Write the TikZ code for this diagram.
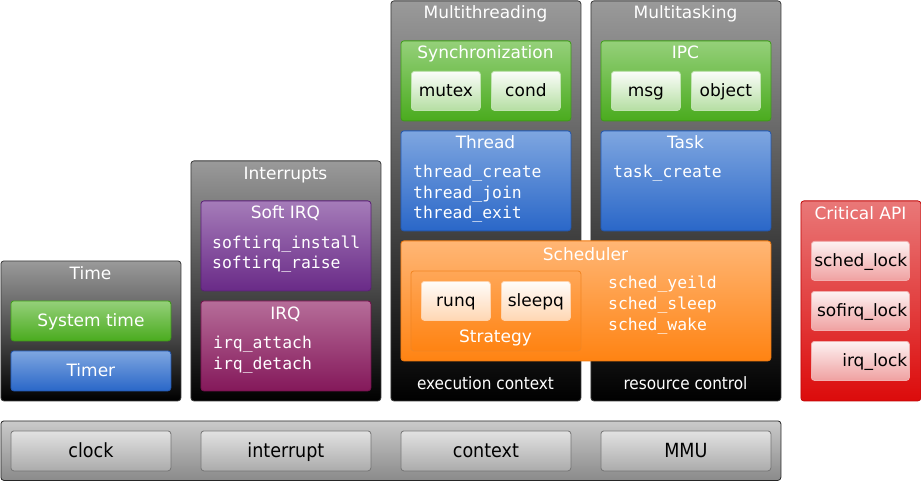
\documentclass[tikz,border=0pt]{standalone}
\usepackage{fontspec}
\setmainfont{DejaVu Sans}
\setmonofont{DejaVu Sans Mono}
\newfontfamily\condfont{DejaVu Sans Condensed}
\definecolor{dkT}{HTML}{9A9A9A}\definecolor{dkM}{HTML}{3C3C3C}\definecolor{dkB}{HTML}{000000}\definecolor{dkL}{HTML}{3A3A3A}
\definecolor{grT}{HTML}{95D07A}\definecolor{grB}{HTML}{4AAB1E}\definecolor{grL}{HTML}{3E9C18}
\definecolor{blT}{HTML}{7EA6E0}\definecolor{blB}{HTML}{2A67C8}\definecolor{blL}{HTML}{2358B0}
\definecolor{puT}{HTML}{A57CB9}\definecolor{puB}{HTML}{692A87}\definecolor{puL}{HTML}{5A2076}
\definecolor{mgT}{HTML}{B66D99}\definecolor{mgB}{HTML}{84185A}\definecolor{mgL}{HTML}{74104C}
\definecolor{orT}{HTML}{FFB675}\definecolor{orB}{HTML}{FF8312}\definecolor{orL}{HTML}{EE7A10}
\definecolor{rdT}{HTML}{E97878}\definecolor{rdB}{HTML}{DC0B0B}\definecolor{rdL}{HTML}{C00808}
\definecolor{gyT}{HTML}{CACACA}\definecolor{gyB}{HTML}{8A8A8A}
\definecolor{gbT}{HTML}{E2E2E2}\definecolor{gbB}{HTML}{ABABAB}\definecolor{gbL}{HTML}{777777}
\tikzset{
  box/.style={rounded corners=3pt, line width=0.8pt, inner sep=0pt, anchor=north west},
  dark/.style={box, draw=dkL, top color=dkT, middle color=dkM, bottom color=dkB},
  green/.style={box, draw=grL, top color=grT, bottom color=grB},
  blue/.style={box, draw=blL, top color=blT, bottom color=blB},
  purple/.style={box, draw=puL, top color=puT, bottom color=puB},
  magenta/.style={box, draw=mgL, top color=mgT, bottom color=mgB},
  orange/.style={box, draw=orL, top color=orT, bottom color=orB},
  strat/.style={box, draw=orL!80!orT, top color=orT!70!orB, bottom color=orB},
  red/.style={box, draw=rdL, top color=rdT, bottom color=rdB},
  gbtn/.style={box, draw=grT!60!white, top color=white!96!grT, bottom color=grT!70!white},
  obtn/.style={box, draw=orT!60!white, top color=white!96!orT, bottom color=orT!55!white},
  rbtn/.style={box, draw=rdT!60!white, top color=white!90!rdT, bottom color=rdT!70!white},
  bar/.style={box, draw=black!85, top color=gyT, bottom color=gyB},
  bbtn/.style={box, draw=gbL, top color=gbT, bottom color=gbB},
  ttl/.style={text=white, font=\fontsize{17}{20}\selectfont, inner sep=0pt, text height=12pt, text depth=0pt},
  foot/.style={text=white, font=\condfont\fontsize{17}{20}\selectfont, inner sep=0pt, text height=12pt, text depth=0pt},
  lbl/.style={text=black, font=\fontsize{17}{20}\selectfont, inner sep=0pt, text height=12pt, text depth=0pt},
  hwlbl/.style={text=black, font=\condfont\fontsize{19.5}{22}\selectfont, inner sep=0pt, text height=13pt, text depth=0pt},
  code/.style={text=white, font=\fontsize{16.4}{20}\ttfamily, inner sep=0pt, anchor=west, text height=12pt, text depth=0pt},
}
\begin{document}
\begin{tikzpicture}[x=1pt,y=-1pt]
\useasboundingbox (0,0) rectangle (921,481);
% Time
\node[dark, minimum width=180, minimum height=140] (time) at (0.5,260.5) {};
\node[ttl] (timeT) at (90.5,273) {Time};
\node[green, minimum width=160, minimum height=40] (systime) at (10.5,300.5) {};
\node[ttl] (systimeT) at (systime.center) {System time};
\node[blue, minimum width=160, minimum height=40] (timer) at (10.5,350.5) {};
\node[ttl] (timerT) at (timer.center) {Timer};
% Interrupts
\node[dark, minimum width=190, minimum height=240] (intr) at (190.5,160.5) {};
\node[ttl] (intrT) at (285.5,174) {Interrupts};
\node[purple, minimum width=170, minimum height=90] (soft) at (200.5,200.5) {};
\node[ttl] (softT) at (285.5,213) {Soft IRQ};
\node[code] (si1) at (212,242) {softirq\_install};
\node[code] (si2) at (212,263) {softirq\_raise};
\node[magenta, minimum width=170, minimum height=90] (irq) at (200.5,300.5) {};
\node[ttl] (irqT) at (285.5,313) {IRQ};
\node[code] (ir1) at (213,342) {irq\_attach};
\node[code] (ir2) at (213,363) {irq\_detach};
% Multithreading
\node[dark, minimum width=190, minimum height=400] (mthr) at (390.5,0.5) {};
\node[ttl] (mthrT) at (485.5,13) {Multithreading};
\node[green, minimum width=170, minimum height=80] (sync) at (400.5,40.5) {};
\node[ttl] (syncT) at (485.5,53) {Synchronization};
\node[gbtn, minimum width=69, minimum height=39] (mutex) at (411,71) {};
\node[lbl] (mutexT) at (mutex.center) {mutex};
\node[gbtn, minimum width=69, minimum height=39] (cond) at (491,71) {};
\node[lbl] (condT) at (cond.center) {cond};
\node[blue, minimum width=170, minimum height=100] (thread) at (400.5,130.5) {};
\node[ttl] (threadT) at (485.5,143) {Thread};
\node[code] (th1) at (413,172) {thread\_create};
\node[code] (th2) at (413,193) {thread\_join};
\node[code] (th3) at (413,213) {thread\_exit};
\node[foot] (execT) at (485.5,383) {execution context};
% Multitasking
\node[dark, minimum width=190, minimum height=400] (mtask) at (590.5,0.5) {};
\node[ttl] (mtaskT) at (685.5,13) {Multitasking};
\node[green, minimum width=170, minimum height=80] (ipc) at (600.5,40.5) {};
\node[ttl] (ipcT) at (685.5,53) {IPC};
\node[gbtn, minimum width=69, minimum height=39] (msg) at (611,71) {};
\node[lbl] (msgT) at (msg.center) {msg};
\node[gbtn, minimum width=69, minimum height=39] (object) at (691,71) {};
\node[lbl] (objectT) at (object.center) {object};
\node[blue, minimum width=170, minimum height=100] (task) at (600.5,130.5) {};
\node[ttl] (taskT) at (685.5,143) {Task};
\node[code] (tk1) at (613,172) {task\_create};
\node[foot] (resT) at (685.5,383) {resource control};
% Scheduler
\node[orange, minimum width=370, minimum height=120] (sched) at (400.5,240.5) {};
\node[ttl] (schedT) at (585.5,254) {Scheduler};
\node[strat, minimum width=170, minimum height=80] (strategy) at (410.5,270.5) {};
\node[ttl] (strategyT) at (495.5,336) {Strategy};
\node[obtn, minimum width=69, minimum height=39] (runq) at (421,281) {};
\node[lbl] (runqT) at (runq.center) {runq};
\node[obtn, minimum width=69, minimum height=39] (sleepq) at (501,281) {};
\node[lbl] (sleepqT) at (sleepq.center) {sleepq};
\node[code] (sc1) at (608,282) {sched\_yeild};
\node[code] (sc2) at (608,303) {sched\_sleep};
\node[code] (sc3) at (608,324) {sched\_wake};
% Critical API
\node[red, minimum width=120, minimum height=200] (crit) at (800.5,200.5) {};
\node[ttl] (critT) at (860.5,214) {Critical API};
\node[rbtn, minimum width=98, minimum height=39] (lk1) at (811,241) {};
\node[lbl, anchor=east] (lk1T) at (907.5,260.5) {sched\_lock};
\node[rbtn, minimum width=98, minimum height=39] (lk2) at (811,291) {};
\node[lbl, anchor=east] (lk2T) at (907.5,310.5) {sofirq\_lock};
\node[rbtn, minimum width=98, minimum height=39] (lk3) at (811,341) {};
\node[lbl, anchor=east] (lk3T) at (907.5,360.5) {irq\_lock};
% Bottom bar
\node[bar, minimum width=780, minimum height=59.5] (hw) at (0.5,420.5) {};
\node[bbtn, minimum width=160, minimum height=40] (clock) at (10.5,430.5) {};
\node[hwlbl] (clockT) at (clock.center) {clock};
\node[bbtn, minimum width=170, minimum height=40] (interrupt) at (200.5,430.5) {};
\node[hwlbl] (interruptT) at (interrupt.center) {interrupt};
\node[bbtn, minimum width=170, minimum height=40] (context) at (400.5,430.5) {};
\node[hwlbl] (contextT) at (context.center) {context};
\node[bbtn, minimum width=170, minimum height=40] (mmu) at (600.5,430.5) {};
\node[hwlbl] (mmuT) at (mmu.center) {MMU};
\end{tikzpicture}
\end{document}
